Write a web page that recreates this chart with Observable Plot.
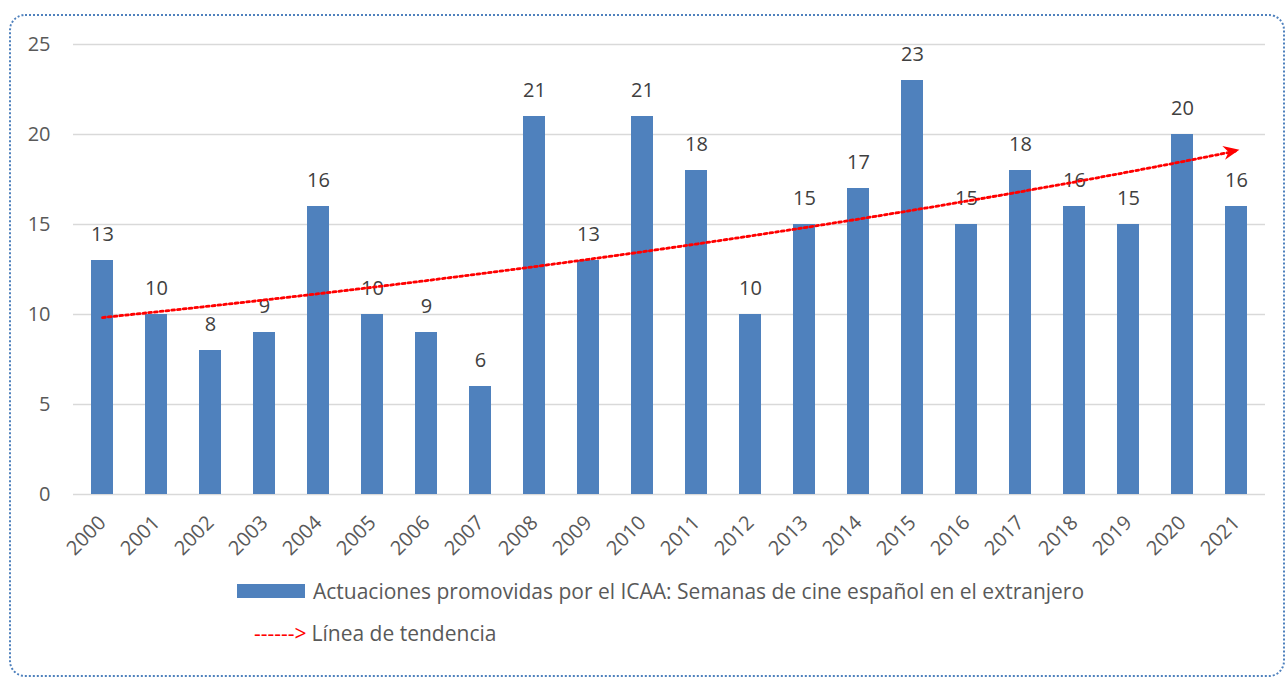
<!DOCTYPE html>
<html>
<head>
<meta charset="utf-8">
<script src="https://cdn.jsdelivr.net/npm/d3@7"></script>
<script src="https://cdn.jsdelivr.net/npm/@observablehq/plot@0.6"></script>
<style>
  html, body { margin: 0; padding: 0; background: #fff; }
  body { width: 1285px; height: 677px; position: relative; overflow: hidden; font-family: "Open Sans", Lato, sans-serif; }
  #frame { position: absolute; left: 9px; top: 14px; width: 1272px; height: 659px; border: 2px dotted #4f81bd; border-radius: 16px; box-sizing: content-box; pointer-events: none; }
  #chart { position: absolute; left: 0; top: 0; }
  .legend { position: absolute; left: 0; font-size: 21px; color: #595959; display: flex; align-items: center; white-space: nowrap; }
  .swatch { display: inline-block; width: 68px; height: 14px; background: #4f81bd; margin-right: 8px; }
  .arrowtxt { color: #ff0000; margin-right: 5px; }
</style>
</head>
<body>
<div id="chart"></div>
<div class="legend" id="leg1" style="left:237px; top:577px;"><span class="swatch"></span><span>Actuaciones promovidas por el ICAA: Semanas de cine español en el extranjero</span></div>
<div class="legend" id="leg2" style="left:254px; top:619px;"><span class="arrowtxt">------&gt;</span><span>Línea de tendencia</span></div>
<div id="frame"></div>
<script>
const years = ["2000","2001","2002","2003","2004","2005","2006","2007","2008","2009","2010","2011","2012","2013","2014","2015","2016","2017","2018","2019","2020","2021"];
const values = [13,10,8,9,16,10,9,6,21,13,21,18,10,15,17,23,15,18,16,15,20,16];
const yTicks = [0,5,10,15,20,25];

const data = years.map((y, i) => ({year: y, value: values[i]}));

// Exponential trend line (least squares on ln(value)), as in the source chart
const idx = d3.range(values.length);
const lnv = values.map(v => Math.log(v));
const mx = d3.mean(idx), my = d3.mean(lnv);
const slope = d3.sum(idx, i => (i - mx) * (lnv[i] - my)) / d3.sum(idx, i => (i - mx) ** 2);
const icpt = my - slope * mx;
const trend = years.map((y, i) => ({year: y, value: Math.exp(icpt + slope * i)}));

const arrowHead = {
  draw(ctx, size) {
    ctx.moveTo(0, -6);
    ctx.lineTo(-7, 10);
    ctx.lineTo(0, 5);
    ctx.lineTo(7, 10);
    ctx.closePath();
  }
};

const chart = Plot.plot({
  width: 1285,
  height: 570,
  marginLeft: 73,
  marginRight: 20,
  marginTop: 44,
  marginBottom: 76,
  style: {fontFamily: "'Open Sans', Lato, sans-serif", fontSize: "20px", color: "#595959", background: "transparent"},
  x: {domain: years, paddingInner: 0.59, paddingOuter: 0.295, label: null},
  y: {domain: [0, 25], label: null},
  marks: [
    Plot.gridY(yTicks, {stroke: "#d9d9d9", strokeOpacity: 1, strokeWidth: 1.5}),
    Plot.axisY(yTicks, {tickSize: 0, tickPadding: 23, fontSize: 20, fill: "#595959", label: null}),
    Plot.axisX({tickSize: 0, tickPadding: 25, tickRotate: -45, fontSize: 20, fill: "#595959", label: null}),
    Plot.barY(data, {x: "year", y: "value", fill: "#4f81bd"}),
    Plot.text(data, {x: "year", y: "value", text: d => String(d.value), dy: -26, fontSize: 20, fill: "#404040"}),
    Plot.line(trend, {x: "year", y: "value", stroke: "#ff0000", strokeWidth: 2.8, strokeDasharray: "2.8,3"}),
    Plot.dot(trend, {x: "year", y: "value", filter: (d, i) => i === trend.length - 1, symbol: arrowHead, rotate: 78.7, fill: "#ff0000", stroke: "none", r: 6, dx: -3})
  ]
});
document.getElementById("chart").appendChild(chart);
</script>
</body>
</html>
